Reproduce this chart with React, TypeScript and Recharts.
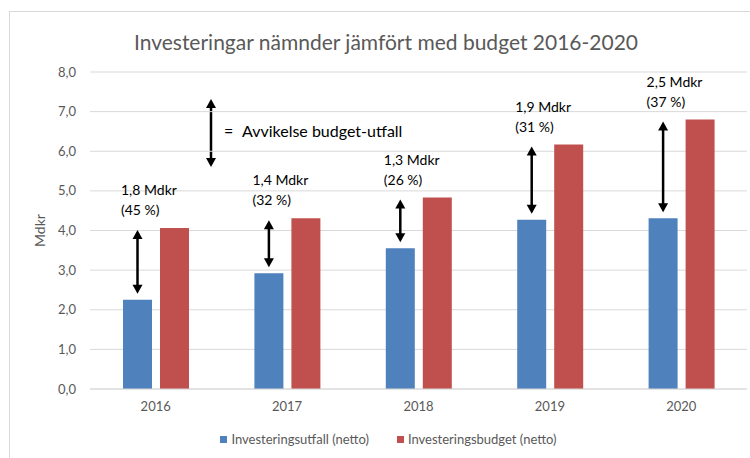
import React from 'react'
import { BarChart, Bar, XAxis, YAxis, CartesianGrid, Legend, LabelList } from 'recharts'

const years = ['2016', '2017', '2018', '2019', '2020']
const utfall = [2.25, 2.92, 3.55, 4.27, 4.31]
const budget = [4.06, 4.31, 4.83, 6.17, 6.8]
const diffLabels = ['1,8 Mdkr', '1,4 Mdkr', '1,3 Mdkr', '1,9 Mdkr', '2,5 Mdkr']
const pctLabels = ['(45 %)', '(32 %)', '(26 %)', '(31 %)', '(37 %)']
const yTicks = [0, 1, 2, 3, 4, 5, 6, 7, 8]

const BLUE = '#4F81BD'
const RED = '#C0504D'
const GREY = '#595959'
const FONT = 'Lato, "Open Sans", sans-serif'

const data = years.map((year, i) => ({
  year,
  utfall: utfall[i],
  budget: budget[i]
}))

function DoubleArrow({ x, y1, y2 }: { x: number; y1: number; y2: number }) {
  const head = 9
  const hw = 5
  return (
    <g>
      <line x1={x} y1={y1 + head - 1} x2={x} y2={y2 - head + 1} stroke="#000" strokeWidth={2.5} />
      <polygon points={`${x},${y1} ${x - hw},${y1 + head} ${x + hw},${y1 + head}`} fill="#000" />
      <polygon points={`${x},${y2} ${x - hw},${y2 - head} ${x + hw},${y2 - head}`} fill="#000" />
    </g>
  )
}

// arrow + text from blue bar top up to the budget level
function Annotation(props: any) {
  const { x, y, width, height, value, index } = props
  const perUnit = height / value
  const base = y + height
  const redTop = base - budget[index] * perUnit
  const cx = x + width / 2
  return (
    <g>
      <DoubleArrow x={cx} y1={redTop + 2} y2={y - 6} />
      <text x={x - 2} y={redTop - 33} fontSize={14} fill="#000" fontFamily={FONT}>
        {diffLabels[index]}
      </text>
      <text x={x - 2} y={redTop - 13} fontSize={14} fill="#000" fontFamily={FONT}>
        {pctLabels[index]}
      </text>
    </g>
  )
}

function LegendContent() {
  const items = [
    { label: 'Investeringsutfall (netto)', color: BLUE },
    { label: 'Investeringsbudget (netto)', color: RED }
  ]
  return (
    <div
      style={{
        height: 22,
        display: 'flex',
        justifyContent: 'center',
        alignItems: 'center',
        gap: 28,
        fontFamily: FONT,
        fontSize: 13,
        color: GREY
      }}
    >
      {items.map((it) => (
        <span key={it.label} style={{ display: 'flex', alignItems: 'center' }}>
          <span style={{ width: 7, height: 7, background: it.color, marginRight: 4, display: 'inline-block' }} />
          {it.label}
        </span>
      ))}
    </div>
  )
}

export default function App() {
  return (
    <div style={{ position: 'absolute', left: 0, top: 0, width: 750, height: 458, overflow: 'hidden', background: '#fff' }}>
      <div
        style={{
          position: 'absolute',
          left: 9,
          top: 11,
          width: 780,
          height: 480,
          border: '1px solid #d9d9d9'
        }}
      />
      <div
        style={{
          position: 'absolute',
          left: 0,
          top: 29,
          width: 772,
          textAlign: 'center',
          fontFamily: FONT,
          fontSize: 21,
          color: GREY
        }}
      >
        Investeringar nämnder jämfört med budget 2016-2020
      </div>
      <svg style={{ position: 'absolute', left: 0, top: 0 }} width={750} height={458}>
        <DoubleArrow x={211} y1={99} y2={167} />
        <text x={224} y={137} fontSize={16} fill="#000" fontFamily={FONT}>
          =
        </text>
        <text x={242} y={137} fontSize={16} fill="#000" fontFamily={FONT}>
          Avvikelse budget-utfall
        </text>
      </svg>
      <div style={{ position: 'absolute', left: 0, top: 0 }}>
        <BarChart
          width={750}
          height={458}
          data={data}
          margin={{ top: 72, right: 3, bottom: 8, left: 30 }}
          barSize={29}
          barGap={8}
        >
          <CartesianGrid vertical={false} stroke="#d9d9d9" />
          <XAxis
            dataKey="year"
            height={39}
            axisLine={{ stroke: '#d9d9d9' }}
            tickLine={false}
            tickMargin={7}
            tick={{ fill: GREY, fontSize: 13, fontFamily: FONT }}
          />
          <YAxis
            width={60}
            domain={[0, 8]}
            ticks={yTicks}
            axisLine={false}
            tickLine={false}
            tickMargin={8}
            tick={{ fill: GREY, fontSize: 13, fontFamily: FONT }}
            tickFormatter={(v: number) => v.toFixed(1).replace('.', ',')}
            label={{
              value: 'Mdkr',
              angle: -90,
              position: 'center',
              dx: -20,
              fill: GREY,
              fontSize: 14,
              fontFamily: FONT
            }}
          />
          <Legend verticalAlign="bottom" content={<LegendContent />} />
          <Bar dataKey="utfall" name="Investeringsutfall (netto)" fill={BLUE} isAnimationActive={false}>
            <LabelList dataKey="utfall" content={<Annotation />} />
          </Bar>
          <Bar dataKey="budget" name="Investeringsbudget (netto)" fill={RED} isAnimationActive={false} />
        </BarChart>
      </div>
    </div>
  )
}
